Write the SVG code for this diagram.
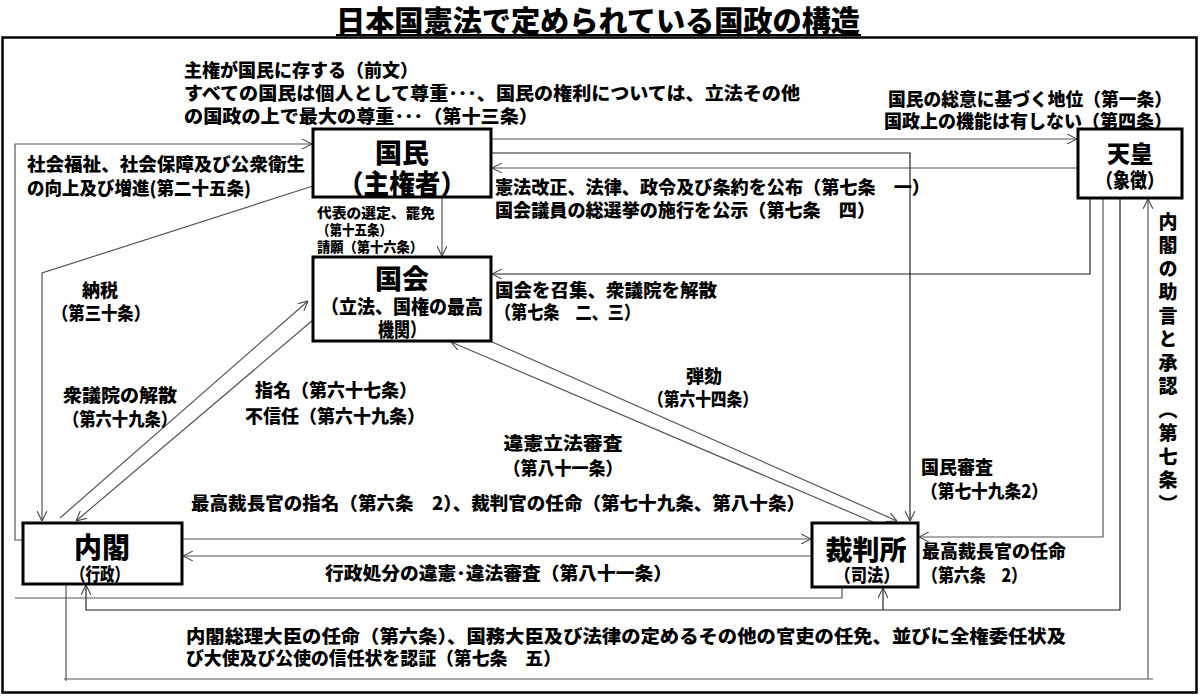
<svg xmlns="http://www.w3.org/2000/svg" width="1200" height="698" viewBox="0 0 1200 698">
<defs>
<marker id="arr" viewBox="0 0 10 10" refX="10" refY="5" markerWidth="10" markerHeight="10" markerUnits="userSpaceOnUse" orient="auto">
<path d="M0,0 L10,5 L0,10" fill="none" stroke="#444" stroke-width="1.1"/>
</marker>
</defs>
<style>
text{font-family:"Noto Sans CJK JP","Noto Sans CJK SC",sans-serif;font-weight:900;fill:#000}
.lbl{font-size:18px}
.sm{font-size:14px}
.box{fill:#fff;stroke:#000;stroke-width:3}
.ln{fill:none;stroke:#555;stroke-width:1.2}
.dk{fill:none;stroke:#222;stroke-width:1.2}
.ttl{font-size:29px}
.big{font-size:27px}
</style>
<rect width="1200" height="698" fill="#fff"/>
<text class="ttl" x="598" y="32" text-anchor="middle" textLength="524" lengthAdjust="spacingAndGlyphs">日本国憲法で定められている国政の構造</text>
<line x1="336" y1="35" x2="861" y2="35" stroke="#000" stroke-width="2"/>
<rect x="2.5" y="37.5" width="1194" height="655" fill="none" stroke="#000" stroke-width="2.5"/>

<g id="connectors">
<path class="ln" d="M491,139 H1077" marker-end="url(#arr)"/>
<path class="dk" d="M491,153 H910 V521" marker-end="url(#arr)"/>
<path class="ln" d="M1078,168 H492" marker-end="url(#arr)"/>
<path class="dk" d="M1090,198 V274 H492" marker-end="url(#arr)"/>
<path class="ln" d="M1103,198 V537 H919" marker-end="url(#arr)"/>
<path class="dk" d="M1120,198 V610 H86 V585" marker-end="url(#arr)"/>
<path class="dk" d="M883,610 V588" marker-end="url(#arr)"/>
<path class="ln" d="M66,584 V681 M64,679 H1153"/>
<path class="ln" d="M1148,679 V199" marker-end="url(#arr)"/>
<path class="ln" d="M442,197 V256" marker-end="url(#arr)"/>
<path class="ln" d="M313,186 L42,273 V521" marker-end="url(#arr)"/>
<path class="ln" d="M23,540 H15 V144 H312" marker-end="url(#arr)"/>
<path class="ln" d="M842,587 V598 H15"/>
<path class="ln" d="M60,518 L308,301" marker-end="url(#arr)"/>
<path class="ln" d="M313,320 L76,521" marker-end="url(#arr)"/>
<path class="ln" d="M490,341 L897,521" marker-end="url(#arr)"/>
<path class="ln" d="M873,522 L451,342" marker-end="url(#arr)"/>
<path class="ln" d="M182,539 H811" marker-end="url(#arr)"/>
<path class="ln" d="M812,556 H183" marker-end="url(#arr)"/>
</g>

<g id="kokumin">
<rect class="box" x="313" y="129" width="178" height="68"/>
<text class="big" text-anchor="middle"><tspan x="402" y="163">国民</tspan><tspan x="402" y="194" textLength="128" lengthAdjust="spacingAndGlyphs">（主権者）</tspan></text>
</g>
<g id="kokkai">
<rect class="box" x="313" y="257" width="178" height="84"/>
<text text-anchor="middle"><tspan class="big" x="402" y="289">国会</tspan><tspan x="402" y="314" font-size="19" textLength="162" lengthAdjust="spacingAndGlyphs">（立法、国権の最高</tspan><tspan x="402" y="337" font-size="19" textLength="48" lengthAdjust="spacingAndGlyphs">機関）</tspan></text>
</g>
<g id="tenno">
<rect class="box" x="1078" y="129" width="104" height="69"/>
<text text-anchor="middle"><tspan x="1130" y="162" font-size="23">天皇</tspan><tspan x="1130" y="188" font-size="20" textLength="68" lengthAdjust="spacingAndGlyphs">（象徴）</tspan></text>
</g>
<g id="naikaku">
<rect class="box" x="23" y="523" width="159" height="61"/>
<text text-anchor="middle"><tspan x="102" y="558" font-size="28">内閣</tspan><tspan x="100" y="581" font-size="18" textLength="58" lengthAdjust="spacingAndGlyphs">（行政）</tspan></text>
</g>
<g id="saibansho">
<rect class="box" x="812" y="523" width="106" height="64"/>
<text text-anchor="middle"><tspan x="866" y="560" font-size="27">裁判所</tspan><tspan x="867" y="582" font-size="18" textLength="65" lengthAdjust="spacingAndGlyphs">（司法）</tspan></text>
</g>

<g id="labels">
<text class="lbl"><tspan x="184" y="77" textLength="234" lengthAdjust="spacingAndGlyphs">主権が国民に存する（前文）</tspan><tspan x="184" y="100" textLength="616" lengthAdjust="spacingAndGlyphs">すべての国民は個人として尊重･･･、国民の権利については、立法その他</tspan><tspan x="184" y="123" textLength="354" lengthAdjust="spacingAndGlyphs">の国政の上で最大の尊重･･･（第十三条）</tspan></text>
<text class="lbl"><tspan x="888" y="106" textLength="284" lengthAdjust="spacingAndGlyphs">国民の総意に基づく地位（第一条）</tspan><tspan x="884" y="128" textLength="288" lengthAdjust="spacingAndGlyphs">国政上の機能は有しない（第四条）</tspan></text>
<text class="lbl"><tspan x="27" y="171" textLength="278" lengthAdjust="spacingAndGlyphs">社会福祉、社会保障及び公衆衛生</tspan><tspan x="27" y="195" textLength="224" lengthAdjust="spacingAndGlyphs">の向上及び増進(第二十五条)</tspan></text>
<text class="lbl"><tspan x="495" y="194" textLength="435" lengthAdjust="spacingAndGlyphs">憲法改正、法律、政令及び条約を公布（第七条　一）</tspan><tspan x="495" y="217" textLength="380" lengthAdjust="spacingAndGlyphs">国会議員の総選挙の施行を公示（第七条　四）</tspan></text>
<text class="sm"><tspan x="317" y="218" textLength="118" lengthAdjust="spacingAndGlyphs">代表の選定、罷免</tspan><tspan x="317" y="235" textLength="75" lengthAdjust="spacingAndGlyphs">（第十五条）</tspan><tspan x="317" y="252" textLength="106" lengthAdjust="spacingAndGlyphs">請願（第十六条）</tspan></text>
<text class="lbl"><tspan x="495" y="297" textLength="222" lengthAdjust="spacingAndGlyphs">国会を召集、衆議院を解散</tspan><tspan x="495" y="319" textLength="145" lengthAdjust="spacingAndGlyphs">（第七条　二、三）</tspan></text>
<text class="lbl"><tspan x="82" y="297">納税</tspan><tspan x="52" y="320" textLength="98" lengthAdjust="spacingAndGlyphs">（第三十条）</tspan></text>
<text class="lbl"><tspan x="63" y="402" textLength="114" lengthAdjust="spacingAndGlyphs">衆議院の解散</tspan><tspan x="63" y="426" textLength="114" lengthAdjust="spacingAndGlyphs">（第六十九条）</tspan></text>
<text class="lbl"><tspan x="255" y="397" textLength="162" lengthAdjust="spacingAndGlyphs">指名（第六十七条）</tspan><tspan x="245" y="423" textLength="180" lengthAdjust="spacingAndGlyphs">不信任（第六十九条）</tspan></text>
<text class="lbl" text-anchor="middle"><tspan x="704" y="383">弾劾</tspan><tspan x="703" y="406" textLength="110" lengthAdjust="spacingAndGlyphs">（第六十四条）</tspan></text>
<text class="lbl" text-anchor="middle"><tspan x="563" y="450" textLength="119" lengthAdjust="spacingAndGlyphs">違憲立法審査</tspan><tspan x="563" y="475" textLength="119" lengthAdjust="spacingAndGlyphs">（第八十一条）</tspan></text>
<text class="lbl"><tspan x="921" y="474">国民審査</tspan><tspan x="921" y="498" textLength="127" lengthAdjust="spacingAndGlyphs">（第七十九条2）</tspan></text>
<text class="lbl" x="191" y="510" textLength="614" lengthAdjust="spacingAndGlyphs">最高裁長官の指名（第六条　2）、裁判官の任命（第七十九条、第八十条）</text>
<text class="lbl"><tspan x="922" y="558" textLength="144" lengthAdjust="spacingAndGlyphs">最高裁長官の任命</tspan><tspan x="922" y="582" textLength="105" lengthAdjust="spacingAndGlyphs">（第六条　2）</tspan></text>
<text class="lbl" x="325" y="580" textLength="347" lengthAdjust="spacingAndGlyphs">行政処分の違憲･違法審査（第八十一条）</text>
<text class="lbl"><tspan x="186" y="643" textLength="880" lengthAdjust="spacingAndGlyphs">内閣総理大臣の任命（第六条）、国務大臣及び法律の定めるその他の官吏の任免、並びに全権委任状及</tspan><tspan x="186" y="665" textLength="375" lengthAdjust="spacingAndGlyphs">び大使及び公使の信任状を認証（第七条　五）</tspan></text>
<text x="1168" y="212" font-size="19" letter-spacing="4.5" style="writing-mode:vertical-rl">内閣の助言と承認（第七条）</text>
</g>
</svg>
